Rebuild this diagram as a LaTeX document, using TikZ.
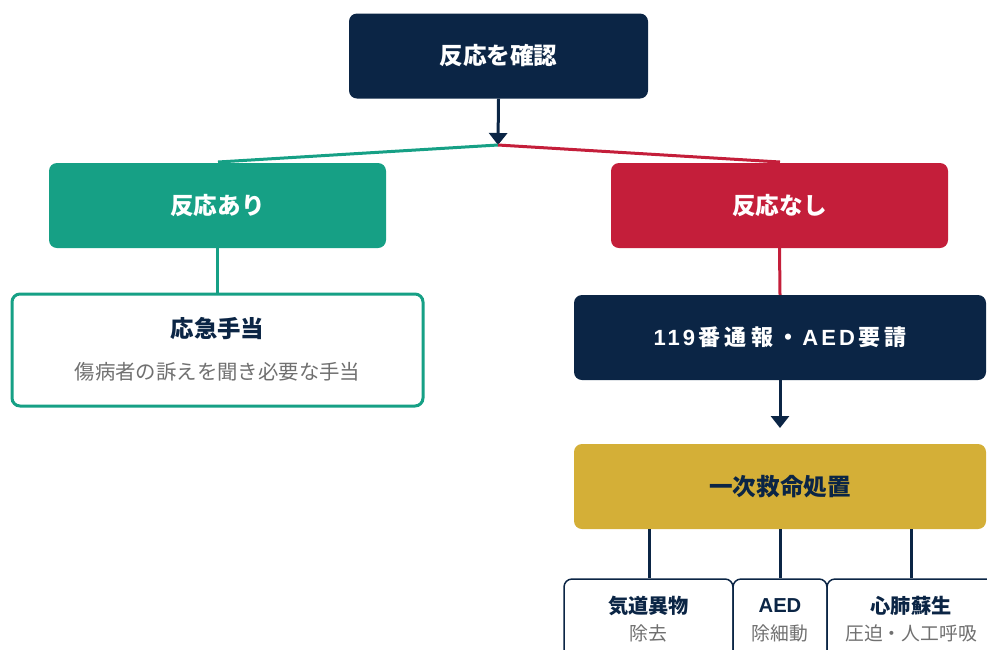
\documentclass[tikz,border=0pt]{standalone}
\usepackage{fontspec}
\setmainfont{Noto Sans CJK JP}
\newfontfamily\lat{Liberation Sans}
\newfontfamily\cjkls[LetterSpace=20]{Noto Sans CJK JP}
\newfontfamily\latls[LetterSpace=14]{Liberation Sans}
\usetikzlibrary{arrows.meta}
\definecolor{navy}{HTML}{0B2545}
\definecolor{teal}{HTML}{16A085}
\definecolor{crimson}{HTML}{C41E3A}
\definecolor{gold}{HTML}{D4AF37}
\definecolor{subgray}{HTML}{707070}
\tikzset{
  box/.style={rounded corners=8pt, minimum width=#1, inner sep=0pt},
  filledbox/.style={box=#1, minimum height=85pt},
  ttl/.style={font=\fontsize{23.6}{27}\selectfont\bfseries, text=white, inner sep=0pt},
  dtl/.style={font=\fontsize{23.4}{27}\selectfont\bfseries, text=navy, inner sep=0pt},
  sub/.style={font=\fontsize{20.4}{24}\selectfont, text=subgray, inner sep=0pt},
  btl/.style={font=\fontsize{20.2}{24}\selectfont\bfseries, text=navy, inner sep=0pt},
  bsub/.style={font=\fontsize{18.8}{22}\selectfont, text=subgray, inner sep=0pt},
  arr/.style={draw=navy, line width=3pt, -{Triangle[width=18pt,length=12pt]}},
  conn/.style={line width=3pt},
}
\begin{document}
\begin{tikzpicture}[x=1pt,y=-1pt]
\useasboundingbox (0,0) rectangle (987,649);
\clip (0,0) rectangle (987,649);
% top
\node[filledbox=299pt, fill=navy] (top) at (498.5,56) {};
\node[ttl] (toptxt) at (top.center) {反応を確認};
\coordinate (split) at (498,145);
% green / red
\node[filledbox=337pt, fill=teal] (yes) at (217.5,205.5) {};
\node[ttl] (yestxt) at (yes.center) {反応あり};
\node[filledbox=337pt, fill=crimson] (no) at (779.5,205.5) {};
\node[ttl] (notxt) at (no.center) {反応なし};
\coordinate (yesin) at (218,162);
\coordinate (noin) at (780,162);
\draw[arr] (top.south) -- (split);
\draw[conn, draw=teal] (split) -- (yesin);
\draw[conn, draw=crimson] (split) -- (noin);
% first aid
\node[box=411pt, minimum height=112pt, draw=teal, line width=3pt, fill=white] (aid) at (217.5,350) {};
\node[dtl] (aidttl) at (217.5,329) {応急手当};
\node[sub] (aidsub) at (217.5,372) {傷病者の訴えを聞き必要な手当};
\draw[conn, draw=teal] (yes.south) -- (aid.north);
% call
\node[filledbox=412pt, fill=navy] (call) at (780,337.5) {};
\node[ttl, font=\fontsize{22}{26}\selectfont\bfseries] (calltxt) at (call.center) {{\latls 119}\kern3pt{\cjkls 番通報・}\kern3pt{\latls AED}\kern3pt{\cjkls 要請}};
\draw[conn, draw=crimson] (no.south) -- (call.north);
% BLS
\node[filledbox=412pt, fill=gold] (bls) at (780,486.5) {};
\node[ttl, text=navy] (blstxt) at (bls.center) {一次救命処置};
\coordinate (blsin) at (780,428);
\draw[arr] (call.south) -- (blsin);
% bottom boxes
\node[box=169pt, minimum height=110pt, draw=navy, line width=1.5pt, fill=white] (b1) at (648.5,634) {};
\node[box=94pt, minimum height=110pt, draw=navy, line width=1.5pt, fill=white] (b2) at (780,634) {};
\node[box=168pt, minimum height=110pt, draw=navy, line width=1.5pt, fill=white] (b3) at (911,634) {};
\node[btl] (b1t) at (648.5,606) {気道異物};
\node[bsub] (b1s) at (648.5,633) {除去};
\node[btl] (b2t) at (780,606) {\lat AED};
\node[bsub] (b2s) at (780,633) {除細動};
\node[btl] (b3t) at (911,606) {心肺蘇生};
\node[bsub] (b3s) at (911,633) {圧迫・人工呼吸};
\coordinate (c1) at (649,529);
\coordinate (c3) at (911,529);
\draw[conn, draw=navy] (c1) -- (c1 |- b1.north);
\draw[conn, draw=navy] (bls.south) -- (b2.north);
\draw[conn, draw=navy] (c3) -- (c3 |- b3.north);
\end{tikzpicture}
\end{document}
